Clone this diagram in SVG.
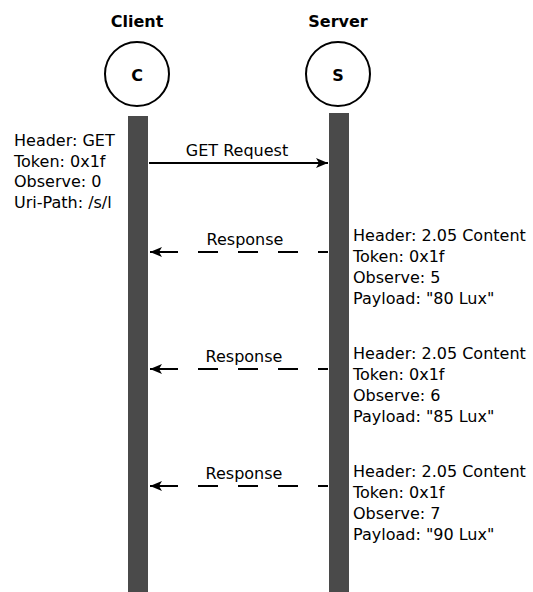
<svg xmlns="http://www.w3.org/2000/svg" width="533" height="592" viewBox="0 0 533 592">
<style>
text{font-family:"DejaVu Sans",Verdana,sans-serif;font-size:16px;fill:#000}
.title{font-weight:bold;text-anchor:middle}
.mid{text-anchor:middle}
.bar{fill:#4a4a4a}
.circ{fill:#fff;stroke:#000;stroke-width:2}
.msg{stroke:#000;stroke-width:2;fill:none}
.dash{stroke-dasharray:20 20}
</style>
<defs>
<marker id="ah" viewBox="0 0 14 12" refX="13" refY="6" markerWidth="14" markerHeight="12" markerUnits="userSpaceOnUse" orient="auto-start-reverse">
<path d="M1,1 L13,6 L1,11 L4,6 Z" fill="#000"/>
</marker>
</defs>
<rect width="533" height="592" fill="#fff"/>
<g id="client">
<text class="title" x="137" y="27">Client</text>
<circle class="circ" cx="137" cy="74" r="32"/>
<text class="title" x="137" y="81">C</text>
<rect class="bar" x="128" y="116" width="20" height="476"/>
</g>
<g id="server">
<text class="title" x="338" y="27">Server</text>
<circle class="circ" cx="338" cy="74" r="32"/>
<text class="title" x="338" y="81">S</text>
<rect class="bar" x="329" y="113" width="20" height="479"/>
</g>
<g id="client-note">
<text x="14" y="146">Header: GET</text>
<text x="14" y="166.5">Token: 0x1f</text>
<text x="14" y="187">Observe: 0</text>
<text x="14" y="207.5">Uri-Path: /s/l</text>
</g>
<g id="note1">
<text x="353" y="241">Header: 2.05 Content</text>
<text x="353" y="262">Token: 0x1f</text>
<text x="353" y="283">Observe: 5</text>
<text x="353" y="304">Payload: "80 Lux"</text>
</g>
<g id="note2">
<text x="353" y="359">Header: 2.05 Content</text>
<text x="353" y="380">Token: 0x1f</text>
<text x="353" y="401">Observe: 6</text>
<text x="353" y="422">Payload: "85 Lux"</text>
</g>
<g id="note3">
<text x="353" y="477">Header: 2.05 Content</text>
<text x="353" y="498">Token: 0x1f</text>
<text x="353" y="519">Observe: 7</text>
<text x="353" y="540">Payload: "90 Lux"</text>
</g>
<g id="connectors">
<line class="msg" x1="149" y1="163" x2="328" y2="163" marker-end="url(#ah)"/>
<text class="mid" x="237" y="156">GET Request</text>
<line class="msg dash" x1="158" y1="252" x2="328" y2="252"/>
<line class="msg" x1="150" y1="252" x2="178" y2="252" marker-start="url(#ah)"/>
<text class="mid" x="245" y="245">Response</text>
<line class="msg dash" x1="158" y1="369" x2="328" y2="369"/>
<line class="msg" x1="150" y1="369" x2="178" y2="369" marker-start="url(#ah)"/>
<text class="mid" x="244" y="362">Response</text>
<line class="msg dash" x1="158" y1="486" x2="328" y2="486"/>
<line class="msg" x1="150" y1="486" x2="178" y2="486" marker-start="url(#ah)"/>
<text class="mid" x="244" y="479">Response</text>
</g>
</svg>
